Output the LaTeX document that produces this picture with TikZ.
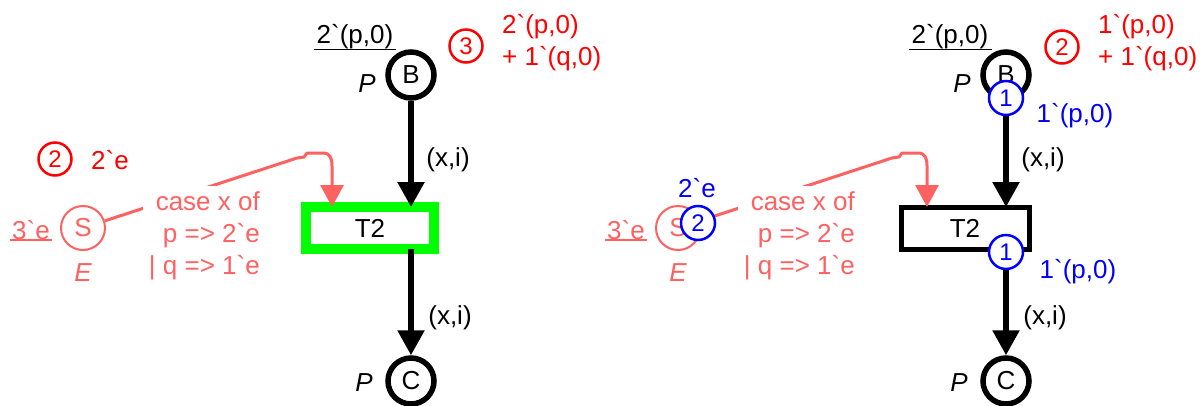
\documentclass[tikz,border=0pt]{standalone}
\usepackage{fontspec}
\setmainfont{Liberation Sans}[Ligatures=TeXOff]
\usetikzlibrary{arrows.meta,calc}
\definecolor{salm}{HTML}{FF6060}
\definecolor{cpnred}{HTML}{FF0000}
\definecolor{cpnblue}{HTML}{0000FF}
\definecolor{cpngreen}{HTML}{00FF00}
\tikzset{
  txt/.style={inner sep=0pt, font=\fontsize{26}{32}\selectfont},
  itxt/.style={inner sep=0pt, font=\fontsize{26}{32}\selectfont\itshape},
  place/.style={circle, draw=black, line width=5.5pt, minimum size=46pt, inner sep=0pt, txt},
  splace/.style={circle, draw=salm, line width=2pt, minimum size=44pt, inner sep=0pt, text=salm, txt},
  tbox/.style={rectangle, minimum width=128pt, minimum height=42pt, inner sep=0pt, outer sep=0pt, txt},
  greenbox/.style={draw=cpngreen, line width=10pt},
  blackbox/.style={draw=black, line width=5pt},
  arcblk/.style={draw=black, line width=5.5pt, -{Triangle[length=25pt,width=26pt]}},
  arcsalm/.style={draw=salm, line width=3pt, line join=round, -{Triangle[length=22pt,width=23pt]}},
  ul/.style={line width=1.8pt},
  redtok/.style={circle, draw=cpnred, text=cpnred, line width=2.5pt, minimum size=33pt, inner sep=0pt, font=\fontsize{24}{28}\selectfont},
  bluetok/.style={circle, draw=cpnblue, text=cpnblue, fill=white, line width=2.5pt, minimum size=34pt, inner sep=0pt, font=\fontsize{24}{28}\selectfont},
  casetxt/.style={txt, text=salm, align=right, fill=white, inner sep=6pt}
}
\newcommand\cpnpart[1]{%
  \node[place] (B) at (411,75) {B};
  \node[txt] (Bini) at (355,37) {2`(p,0)};
  \draw[ul] ([xshift=-3pt]Bini.south west) -- ([xshift=3pt]Bini.south east);
  \node[itxt] (BP) at (367,84) {P};
  \node[tbox,#1] (T2) at (370,228) {T2};
  \node[place] (C) at (411,381) {C};
  \node[itxt] (CP) at (364,383) {P};
  \node[splace] (S) at (83,228) {S};
  \node[txt, text=salm] (Sini) at (31,230) {3`e};
  \draw[ul, salm] ([xshift=-2pt]Sini.south west) -- ([xshift=2pt]Sini.south east);
  \node[itxt, text=salm] (SE) at (83,273) {E};
  \draw[arcblk] (B) -- (B |- T2.north);
  \node[txt] (l1) at (448,160) {(x,i)};
  \draw[arcblk] (C |- T2.south) -- (C);
  \node[txt] (l2) at (450,318) {(x,i)};
  \coordinate (k1) at (297,158);
  \coordinate (k2) at (332,166);
  \draw[arcsalm] (S) -- (k1) -- (304,157) -- (307,153) -- (323,153)
     .. controls (330,153) and (332,158) .. (k2) -- (k2 |- T2.north);
  \node[casetxt, anchor=east] (cs) at (266,236) {case x of\\p => 2`e\\| q => 1`e};
}
\begin{document}
\begin{tikzpicture}[x=1pt,y=-1pt]
\useasboundingbox (0,0) rectangle (1202,405);
\begin{scope}[name prefix=L-]
  \cpnpart{greenbox}
  \node[redtok] (rt) at (466,46) {3};
  \node[txt, text=cpnred, align=left, anchor=west] (rm) at (502,43) {2`(p,0)\\+ 1`(q,0)};
  \node[redtok] (st) at (55,159) {2};
  \node[txt, text=cpnred] (sm) at (110,160) {2`e};
\end{scope}
\begin{scope}[name prefix=R-, xshift=595pt]
  \cpnpart{blackbox}
  \node[redtok] (rt) at (467,47) {2};
  \node[txt, text=cpnred, align=left, anchor=west] (rm) at (503,43) {1`(p,0)\\+ 1`(q,0)};
  \node[bluetok] (bb) at (411,98) {1};
  \node[txt, text=cpnblue] (bbm) at (480,116) {1`(p,0)};
  \node[bluetok] (bt) at (411,252) {1};
  \node[txt, text=cpnblue] (btm) at (483,272) {1`(p,0)};
  \node[bluetok] (bs) at (103,223) {2};
  \node[txt, text=cpnblue] (bsm) at (102,188) {2`e};
\end{scope}
\end{tikzpicture}
\end{document}
